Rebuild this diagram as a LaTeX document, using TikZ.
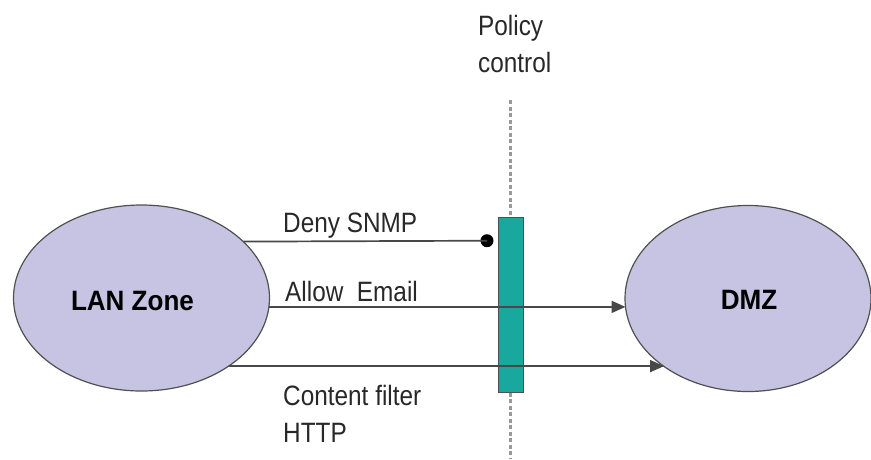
\documentclass[tikz,border=0pt]{standalone}
\usepackage{fontspec}
\setmainfont{Liberation Sans}
\newfontfamily\lblfont{Liberation Sans}[FakeStretch=0.87]
\newfontfamily\zonefont{Liberation Sans}[FakeStretch=0.93]
\usetikzlibrary{arrows.meta, shapes.geometric}
\definecolor{zonefill}{RGB}{198,196,226}
\definecolor{zoneline}{RGB}{80,80,80}
\definecolor{barfill}{RGB}{24,168,158}
\definecolor{wire}{RGB}{72,72,72}
\definecolor{lbl}{RGB}{40,40,40}
\tikzset{
  zone/.style={ellipse, draw=zoneline, line width=1.2pt, fill=zonefill,
    inner sep=0pt, outer sep=0pt},
  zonetext/.style={font=\zonefont\bfseries\fontsize{28}{34}\selectfont,
    text=black, inner sep=0pt, anchor=base},
  flowtext/.style={font=\lblfont\fontsize{28}{37}\selectfont, text=lbl,
    inner sep=0pt, anchor=base west, align=left},
  gate/.style={rectangle, draw=zoneline, line width=1pt, fill=barfill,
    inner sep=0pt, outer sep=0pt, minimum width=25pt, minimum height=175pt},
  fence/.style={draw=gray!80, line width=2.2pt, dash pattern=on 4pt off 2.5pt},
  flow/.style={draw=wire, line width=1.7pt},
  pass/.style={flow, -{Triangle[length=14pt,width=12pt]}},
  blockdot/.style={circle, fill=black, inner sep=0pt, minimum size=13pt}
}
\begin{document}
\begin{tikzpicture}[x=1pt, y=-1pt]
  \useasboundingbox (0,0) rectangle (871,459);

  % policy boundary: dashed line with the control bar on it
  \coordinate (fencetop) at (510.5,100);
  \coordinate (fencebot) at (510.5,459);
  \draw[fence] (fencetop) -- (fencebot);
  \node[gate] (bar) at (510.5,304.5) {};
  % multi-line texts are placed by the baseline of their last line
  \node[flowtext] (policy) at (478,72) {Policy\\control};

  % zones
  \node[zone, minimum width=256pt, minimum height=186pt] (lan) at (141.5,298) {};
  \node[zone, minimum width=246pt, minimum height=186pt] (dmz) at (748,298.5) {};
  \node[zonetext] (lanlbl) at (132.5,310) {LAN Zone};
  \node[zonetext] (dmzlbl) at (749,309.5) {DMZ};

  % flows
  \node[blockdot] (stop) at (487,240.7) {};
  \draw[flow] (lan.29.6) -- (stop.center);
  \draw[pass] (lan.-4.95) -- (dmz.184.9 |- lan.-4.95);
  \draw[pass] (lan.-38.8) -- (dmz.219.5 |- lan.-38.8);

  % flow labels
  \node[flowtext] (deny) at (283,232) {Deny SNMP};
  \node[flowtext] (allow) at (285,301.7) {Allow\ \ Email};
  \node[flowtext] (filter) at (283,442) {Content filter\\HTTP};
\end{tikzpicture}
\end{document}
